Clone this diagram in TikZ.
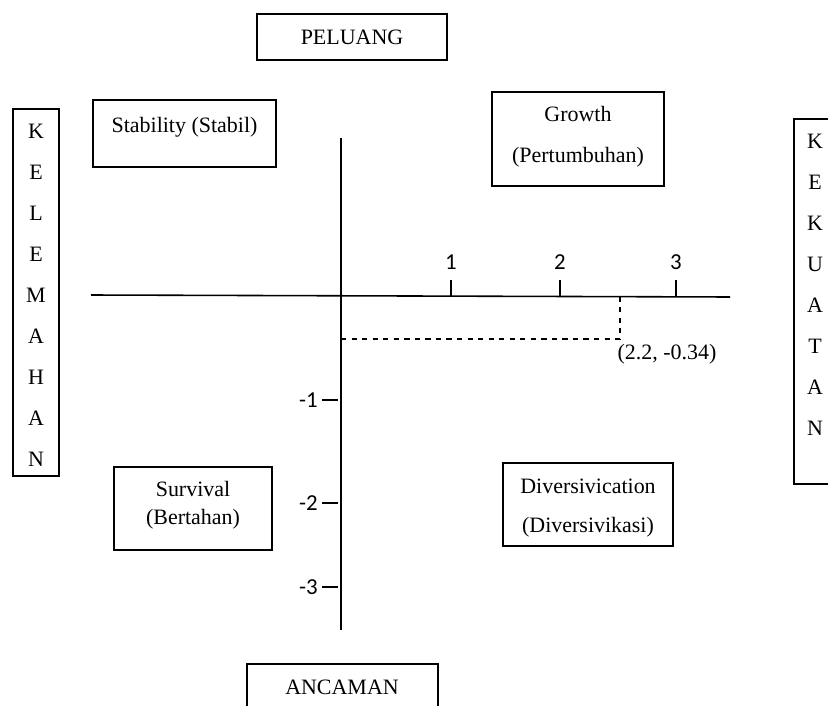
\documentclass[tikz,border=0pt]{standalone}
\usepackage{fontspec}
\setmainfont{Liberation Serif}
\newfontfamily\angkafont{Carlito}
\begin{document}
\begin{tikzpicture}[x=0.02cm,y=-0.02cm,
  kotak/.style={line width=0.8pt},
  teks/.style={font=\fontsize{12.5}{15}\selectfont,inner sep=0pt},
  angka/.style={font=\angkafont\fontsize{13}{15}\selectfont,inner sep=0pt}]
\useasboundingbox (0,0) rectangle (828,706);
\pgfmathsetmacro{\tk}{16}
%
\draw[kotak](257,14) rectangle (447,60);
\node[teks] (peluang) at (352,37) {PELUANG};
%
\draw[kotak](247,664) rectangle (438,712);
\node[teks] (ancaman) at (342,687) {ANCAMAN};
%
\draw[kotak](93,100) rectangle (276,167);
\node[teks] (stabil) at (184.5,127) {Stability (Stabil)};
%
\draw[kotak](492,92) rectangle (664,186);
\node[teks] (growth) at (578,114) {Growth};
\node[teks] (tumbuh) at (578,157) {(Pertumbuhan)};
%
\draw[kotak](114,467) rectangle (272,550);
\node[teks] (survival) at (193,489) {Survival};
\node[teks] (tahan) at (193,519) {(Bertahan)};
%
\draw[kotak](503,463) rectangle (673,546);
\node[teks] (divers) at (588,486) {Diversivication};
\node[teks] (diverskasi) at (588,527) {(Diversivikasi)};
%
\draw[kotak](13,109) rectangle (59,476);
\foreach \h [count=\i from 0] in {K,E,L,E,M,A,H,A,N}
  \node[teks] (lemah\i) at (36,131+41.1*\i) {\h};
%
\draw[kotak](794,119) rectangle (840,484);
\foreach \h [count=\i from 0] in {K,E,K,U,A,T,A,N}
  \node[teks] (kuat\i) at (815,141+41*\i) {\h};
%
\coordinate (xkiri) at (91,295);
\coordinate (xkanan) at (730,297);
\coordinate (yatas) at (341,138);
\coordinate (ybawah) at (341,630);
\draw[line width=0.9pt] (xkiri) -- (xkanan);
\draw[line width=0.9pt] (yatas) -- (ybawah);
%
\foreach \x/\n in {451/1,560/2,676/3}{
  \draw[line width=0.8pt] (\x,296-\tk) -- (\x,296);
  \node[angka] (x\n) at (\x,262) {\n};
}
\foreach \y/\n in {400/1,503/2,587/3}{
  \draw[line width=0.8pt] (338-\tk,\y) -- (338,\y);
  \node[angka,anchor=east] (y\n) at (318,\y) {-\n};
}
%
\coordinate (titik) at (620,339);
\draw[dashed,line width=0.6pt] (341,339) -- (titik) -- (620,296);
\node[teks] (koord) at (667,354) {(2.2, -0.34)};
\end{tikzpicture}
\end{document}
